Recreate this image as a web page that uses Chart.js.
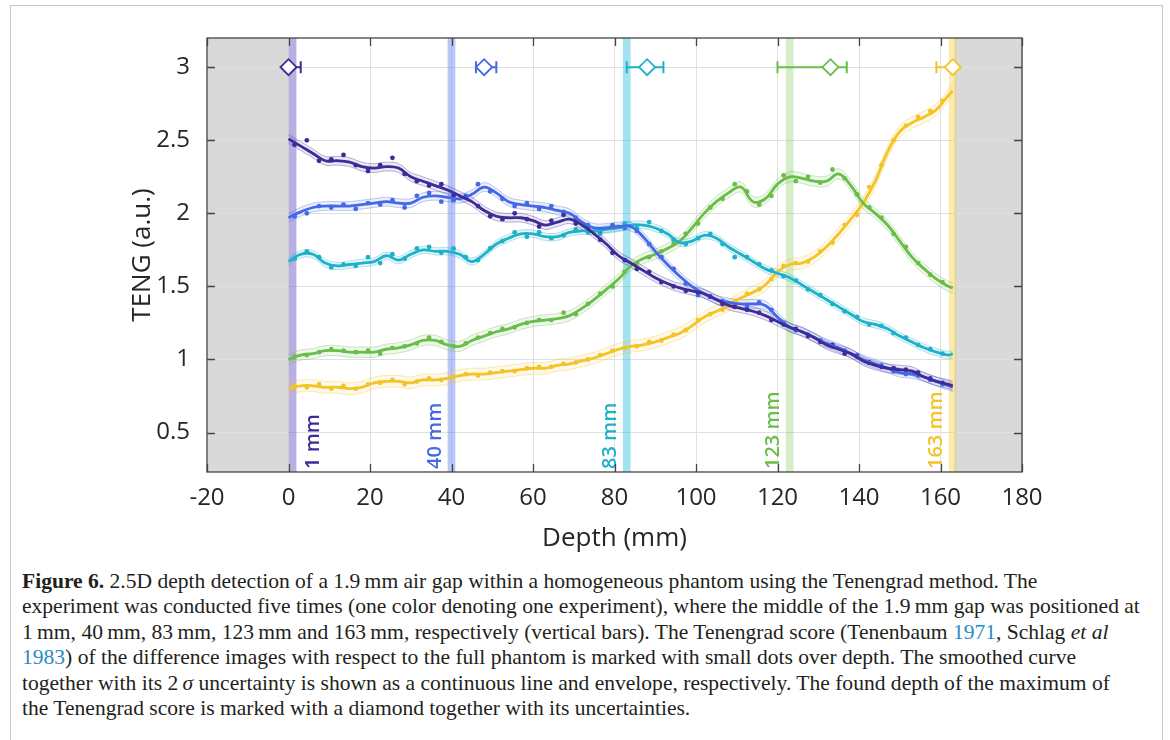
<!DOCTYPE html>
<html>
<head>
<meta charset="utf-8">
<script src="https://cdn.jsdelivr.net/npm/chart.js@4.4.0/dist/chart.umd.min.js"></script>
<style>
  body { margin: 0; background: #fff; width: 1170px; height: 740px; overflow: hidden; position: relative; }
  #frame { position: absolute; left: 10px; top: 5px; width: 1153px; height: 760px; border: 1.5px solid #c6c6c6; box-sizing: border-box; }
  #chart { position: absolute; left: 0; top: 0; }
  #caption { position: absolute; left: 22px; top: 569px; font-family: "Liberation Serif", serif; color: #231f20; font-size: 18px; line-height: 25.4px; white-space: nowrap; }
  #caption a { color: #2a8bc2; text-decoration: none; }
</style>
</head>
<body>
<div id="frame"></div>
<canvas id="chart" width="1170" height="560"></canvas>
<div id="caption">
  <div><span><b>Figure 6.</b> 2.5D depth detection of a 1.9&#8239;mm air gap within a homogeneous phantom using the Tenengrad method. The</span></div>
  <div><span id="fitLine">experiment was conducted five times (one color denoting one experiment), where the middle of the 1.9&#8239;mm gap was positioned at</span></div>
  <div><span>1&#8239;mm, 40&#8239;mm, 83&#8239;mm, 123&#8239;mm and 163&#8239;mm, respectively (vertical bars). The Tenengrad score (Tenenbaum <a>1971</a>, Schlag <i>et al</i></span></div>
  <div><span><a>1983</a>) of the difference images with respect to the full phantom is marked with small dots over depth. The smoothed curve</span></div>
  <div><span>together with its 2&#8239;<i>σ</i> uncertainty is shown as a continuous line and envelope, respectively. The found depth of the maximum of</span></div>
  <div><span>the Tenengrad score is marked with a diamond together with its uncertainties.</span></div>
</div>
<script>
// axis ticks
const xTicks = [-20, 0, 20, 40, 60, 80, 100, 120, 140, 160, 180];
const yTicks = [0.5, 1, 1.5, 2, 2.5, 3];

// depth grid of the smoothed curves (mm)
const depth = [0, 3, 6, 9, 12, 15, 18, 21, 24, 27, 30, 33, 36, 39, 42, 45, 48, 51, 54, 57,
  60, 63, 66, 69, 72, 75, 78, 81, 84, 87, 90, 93, 96, 99, 102, 105, 108, 111, 114, 117,
  120, 123, 126, 129, 132, 135, 138, 141, 144, 147, 150, 153, 156, 159, 162, 163];
// depth of the raw score dots (mm)
const dotDepth = [1.5, 4.5, 7.5, 10.5, 13.5, 16.5, 19.5, 22.5, 25.5, 28.5, 31.5, 34.5, 37.5, 40.5,
  43.5, 46.5, 49.5, 52.5, 55.5, 58.5, 61.5, 64.5, 67.5, 70.5, 73.5, 76.5, 79.5, 82.5, 85.5, 88.5,
  91.5, 94.5, 97.5, 100.5, 103.5, 106.5, 109.5, 112.5, 115.5, 118.5, 121.5, 124.5, 127.5, 130.5,
  133.5, 136.5, 139.5, 142.5, 145.5, 148.5, 151.5, 154.5, 157.5, 160.5];

// gap positions (experiments)
const gapDepth = [1, 40, 83, 123, 163];
const gapLabels = ['1 mm', '40 mm', '83 mm', '123 mm', '163 mm'];
const gapWidth = 1.9;

// smoothed Tenengrad score per experiment
const smooth1 = [2.51, 2.46, 2.41, 2.36, 2.36, 2.35, 2.32, 2.31, 2.32, 2.31, 2.25, 2.22, 2.19, 2.16, 2.12, 2.08, 2.02, 1.98, 1.97, 1.97,
  1.95, 1.92, 1.94, 1.96, 1.92, 1.86, 1.79, 1.71, 1.66, 1.61, 1.56, 1.52, 1.49, 1.47, 1.45, 1.41, 1.37, 1.35, 1.33, 1.30,
  1.26, 1.22, 1.19, 1.15, 1.10, 1.07, 1.04, 0.99, 0.96, 0.94, 0.93, 0.92, 0.88, 0.85, 0.83, 0.82];
const smooth40 = [1.97, 2.01, 2.04, 2.05, 2.05, 2.05, 2.06, 2.07, 2.08, 2.07, 2.07, 2.11, 2.12, 2.11, 2.10, 2.13, 2.18, 2.14, 2.08, 2.06,
  2.05, 2.04, 2.02, 2.00, 1.94, 1.90, 1.90, 1.91, 1.91, 1.84, 1.74, 1.65, 1.57, 1.50, 1.45, 1.41, 1.39, 1.38, 1.38, 1.37,
  1.29, 1.22, 1.19, 1.15, 1.11, 1.08, 1.04, 1.00, 0.97, 0.94, 0.91, 0.90, 0.88, 0.85, 0.82, 0.81];
const smooth83 = [1.67, 1.72, 1.72, 1.66, 1.64, 1.65, 1.66, 1.67, 1.71, 1.68, 1.72, 1.75, 1.74, 1.74, 1.72, 1.67, 1.72, 1.79, 1.83, 1.86,
  1.86, 1.84, 1.84, 1.87, 1.88, 1.88, 1.89, 1.90, 1.92, 1.92, 1.90, 1.86, 1.80, 1.81, 1.85, 1.83, 1.77, 1.72, 1.67, 1.62,
  1.59, 1.56, 1.51, 1.46, 1.41, 1.36, 1.31, 1.26, 1.24, 1.21, 1.16, 1.12, 1.08, 1.05, 1.03, 1.04];
const smooth123 = [1.00, 1.03, 1.04, 1.06, 1.06, 1.05, 1.05, 1.05, 1.07, 1.08, 1.10, 1.13, 1.13, 1.10, 1.09, 1.13, 1.16, 1.19, 1.21, 1.24,
  1.26, 1.27, 1.28, 1.30, 1.35, 1.41, 1.48, 1.55, 1.64, 1.69, 1.72, 1.76, 1.81, 1.90, 2.00, 2.08, 2.14, 2.18, 2.08, 2.10,
  2.20, 2.25, 2.24, 2.22, 2.22, 2.27, 2.19, 2.07, 2.00, 1.92, 1.81, 1.70, 1.62, 1.55, 1.50, 1.49];
const smooth163 = [0.80, 0.82, 0.82, 0.81, 0.81, 0.80, 0.81, 0.84, 0.85, 0.85, 0.84, 0.86, 0.86, 0.87, 0.89, 0.90, 0.90, 0.91, 0.92, 0.93,
  0.94, 0.94, 0.96, 0.97, 0.99, 1.01, 1.04, 1.07, 1.09, 1.10, 1.12, 1.15, 1.18, 1.23, 1.29, 1.33, 1.37, 1.42, 1.46, 1.51,
  1.60, 1.65, 1.66, 1.70, 1.77, 1.86, 1.96, 2.07, 2.22, 2.42, 2.56, 2.62, 2.66, 2.71, 2.81, 2.84];

// raw score dots per experiment
const dots1 = [2.47, 2.50, 2.36, 2.37, 2.40, 2.33, 2.29, 2.33, 2.38, 2.27, 2.22, 2.19, 2.20, 2.12, 2.11, 2.05, 1.98, 1.96, 2.00, 1.96,
  1.91, 1.95, 1.99, 1.93, 1.89, 1.82, 1.73, 1.68, 1.62, 1.60, 1.53, 1.50, 1.47, 1.46, 1.43, 1.38, 1.36, 1.34, 1.32, 1.27,
  1.24, 1.21, 1.16, 1.12, 1.10, 1.04, 1.02, 0.98, 0.95, 0.94, 0.93, 0.91, 0.87, 0.84];
const dots40 = [1.98, 2.00, 2.05, 2.04, 2.06, 2.03, 2.07, 2.06, 2.09, 2.04, 2.12, 2.14, 2.08, 2.09, 2.12, 2.20, 2.15, 2.10, 2.05, 2.07,
  2.03, 2.05, 2.01, 1.97, 1.92, 1.88, 1.92, 1.90, 1.88, 1.79, 1.70, 1.62, 1.52, 1.44, 1.43, 1.40, 1.37, 1.36, 1.39, 1.34,
  1.25, 1.20, 1.17, 1.13, 1.09, 1.06, 1.03, 0.98, 0.96, 0.92, 0.90, 0.89, 0.86, 0.83];
const dots83 = [1.69, 1.74, 1.70, 1.63, 1.65, 1.64, 1.70, 1.66, 1.72, 1.69, 1.76, 1.77, 1.73, 1.76, 1.70, 1.68, 1.76, 1.81, 1.87, 1.84,
  1.87, 1.83, 1.85, 1.89, 1.87, 1.86, 1.90, 1.93, 1.90, 1.94, 1.88, 1.82, 1.79, 1.83, 1.86, 1.79, 1.70, 1.70, 1.65, 1.61,
  1.57, 1.54, 1.48, 1.44, 1.38, 1.33, 1.29, 1.24, 1.23, 1.18, 1.15, 1.10, 1.07, 1.04];
const dots123 = [1.02, 1.03, 1.05, 1.07, 1.06, 1.05, 1.06, 1.04, 1.08, 1.09, 1.11, 1.15, 1.12, 1.09, 1.11, 1.15, 1.18, 1.21, 1.22, 1.25,
  1.27, 1.27, 1.32, 1.31, 1.38, 1.45, 1.50, 1.60, 1.66, 1.70, 1.74, 1.79, 1.86, 1.93, 2.04, 2.10, 2.20, 2.15, 2.06, 2.12,
  2.26, 2.22, 2.25, 2.21, 2.30, 2.24, 2.13, 2.04, 1.97, 1.86, 1.77, 1.66, 1.58, 1.53];
const dots163 = [0.82, 0.81, 0.83, 0.80, 0.82, 0.80, 0.83, 0.84, 0.86, 0.83, 0.85, 0.87, 0.86, 0.88, 0.90, 0.89, 0.91, 0.92, 0.92, 0.94,
  0.95, 0.95, 0.97, 0.98, 1.00, 1.03, 1.06, 1.08, 1.09, 1.12, 1.13, 1.17, 1.20, 1.27, 1.31, 1.34, 1.40, 1.45, 1.48, 1.55,
  1.64, 1.66, 1.67, 1.74, 1.80, 1.92, 1.99, 2.18, 2.33, 2.50, 2.60, 2.66, 2.70, 2.77];

// 2 sigma envelope half width
const sigma2 = [0.03, 0.03, 0.025, 0.035, 0.04];

// found maximum (diamond) and its uncertainty
const peakDepth = [0, 48, 88, 133, 163];
const peakErrLow = [0, 2, 5, 13, 4];
const peakErrHigh = [3, 3, 4, 4, 0];
const peakMarkY = 3;

// regions outside the phantom
const outsideRanges = [[-20, 0], [163.4, 180]];

const colors = ['#3d2b98', '#4468e6', '#1fb1ca', '#69be4a', '#f4c326'];
const barColors = ['rgba(100,80,190,0.45)', 'rgba(90,125,240,0.42)', 'rgba(50,190,220,0.45)',
  'rgba(130,205,100,0.35)', 'rgba(245,205,60,0.4)'];

const smooths = [smooth1, smooth40, smooth83, smooth123, smooth163];
const dotSets = [dots1, dots40, dots83, dots123, dots163];

function fade(hex, a) {
  const n = parseInt(hex.slice(1), 16);
  return 'rgba(' + (n >> 16) + ',' + ((n >> 8) & 255) + ',' + (n & 255) + ',' + a + ')';
}

const datasets = [];
// envelopes
smooths.forEach((s, i) => {
  const upIdx = datasets.length;
  datasets.push({
    data: depth.map((d, j) => ({ x: d, y: s[j] + sigma2[i] })),
    borderColor: fade(colors[i], 0.35), borderWidth: 1, pointRadius: 0,
    tension: 0.4, fill: false, order: 5
  });
  datasets.push({
    data: depth.map((d, j) => ({ x: d, y: s[j] - sigma2[i] })),
    borderColor: fade(colors[i], 0.35), borderWidth: 1, pointRadius: 0,
    backgroundColor: fade(colors[i], 0.1),
    tension: 0.4, fill: upIdx, order: 5
  });
});
// dots
dotSets.forEach((s, i) => {
  datasets.push({
    data: dotDepth.map((d, j) => ({ x: d, y: s[j] })),
    showLine: false, pointRadius: 2.4, pointBorderWidth: 0,
    pointBackgroundColor: colors[i], order: 4
  });
});
// smoothed curves
smooths.forEach((s, i) => {
  datasets.push({
    data: depth.map((d, j) => ({ x: d, y: s[j] })),
    borderColor: colors[i], borderWidth: 2.8, pointRadius: 0,
    tension: 0.4, order: 3
  });
});
// error bars of the maximum
peakDepth.forEach((p, i) => {
  datasets.push({
    data: [{ x: p - peakErrLow[i], y: peakMarkY }, { x: p + peakErrHigh[i], y: peakMarkY }],
    borderColor: colors[i], borderWidth: 2, pointStyle: 'line', pointRotation: 90,
    pointRadius: 6, pointBorderWidth: 2, pointBorderColor: colors[i], order: 2
  });
});
// diamonds
datasets.push({
  data: peakDepth.map(p => ({ x: p, y: peakMarkY })),
  showLine: false, pointStyle: 'rectRot', pointRadius: 8, pointBorderWidth: 1.8,
  pointBorderColor: colors, pointBackgroundColor: '#ffffff', order: 1
});

const decor = {
  id: 'decor',
  beforeDraw(chart) {
    const { ctx, chartArea: a, scales: { x } } = chart;
    ctx.save();
    ctx.fillStyle = '#d9d9d9';
    outsideRanges.forEach(([from, to]) => {
      const l = x.getPixelForValue(from), r = x.getPixelForValue(to);
      ctx.fillRect(l, a.top, r - l, a.bottom - a.top);
    });
    ctx.restore();
  },
  beforeDatasetsDraw(chart) {
    const { ctx, chartArea: a, scales: { x } } = chart;
    ctx.save();
    gapDepth.forEach((g, i) => {
      const l = x.getPixelForValue(g - gapWidth / 2), r = x.getPixelForValue(g + gapWidth / 2);
      ctx.fillStyle = barColors[i];
      ctx.fillRect(l, a.top, r - l, a.bottom - a.top);
    });
    // gap labels, rotated
    ctx.font = '600 20px "Open Sans"';
    ctx.textAlign = 'left';
    ctx.textBaseline = 'middle';
    gapDepth.forEach((g, i) => {
      const px = x.getPixelForValue(g) + (i === 0 ? 21 : -16);
      ctx.save();
      ctx.translate(px, a.bottom - 3);
      ctx.rotate(-Math.PI / 2);
      ctx.fillStyle = colors[i];
      ctx.fillText(gapLabels[i], 0, 0);
      ctx.restore();
    });
    ctx.restore();
  },
  afterDraw(chart) {
    const { ctx, chartArea: a, scales: { x, y } } = chart;
    ctx.save();
    ctx.strokeStyle = '#444';
    ctx.lineWidth = 1.3;
    ctx.strokeRect(a.left, a.top, a.right - a.left, a.bottom - a.top);
    ctx.beginPath();
    xTicks.forEach(v => {
      const px = Math.round(x.getPixelForValue(v)) + 0.5;
      ctx.moveTo(px, a.bottom); ctx.lineTo(px, a.bottom - 8);
      ctx.moveTo(px, a.top); ctx.lineTo(px, a.top + 8);
    });
    yTicks.forEach(v => {
      const py = Math.round(y.getPixelForValue(v)) + 0.5;
      ctx.moveTo(a.left, py); ctx.lineTo(a.left + 8, py);
      ctx.moveTo(a.right, py); ctx.lineTo(a.right - 8, py);
    });
    ctx.stroke();
    ctx.restore();
  }
};

const tickFont = { family: 'Open Sans', size: 24 };
const titleFont = { family: 'Open Sans', size: 26 };

new Chart(document.getElementById('chart').getContext('2d'), {
  type: 'line',
  data: { datasets: datasets },
  options: {
    responsive: false,
    animation: false,
    devicePixelRatio: 1,
    layout: { padding: { left: 107, right: 148, top: 38, bottom: 3 } },
    plugins: { legend: { display: false }, tooltip: { enabled: false } },
    scales: {
      x: {
        type: 'linear', min: -20, max: 180,
        afterBuildTicks: s => { s.ticks = xTicks.map(v => ({ value: v })); },
        afterFit: s => { s.height = 85; },
        grid: { color: '#e0e0e0', drawTicks: false },
        border: { display: false },
        ticks: { font: tickFont, color: '#262626', padding: 12, autoSkip: false, maxRotation: 0 },
        title: { display: true, text: 'Depth (mm)', font: titleFont, color: '#262626', padding: { top: 0, bottom: 3 } }
      },
      y: {
        type: 'linear', min: 0.23, max: 3.2,
        afterBuildTicks: s => { s.ticks = yTicks.map(v => ({ value: v })); },
        afterFit: s => { s.width = 100; },
        grid: { color: '#e0e0e0', drawTicks: false },
        border: { display: false },
        ticks: { font: tickFont, color: '#262626', padding: 17, callback: v => String(v) },
        title: { display: true, text: 'TENG (a.u.)', font: titleFont, color: '#262626', padding: { top: 20, bottom: 0 } }
      }
    }
  },
  plugins: [decor]
});

// fit caption font so the wrapped lines keep the original width
const fit = document.getElementById('fitLine');
const w = fit.getBoundingClientRect().width;
document.getElementById('caption').style.fontSize = (18 * 1118 / w).toFixed(2) + 'px';
</script>
</body>
</html>
